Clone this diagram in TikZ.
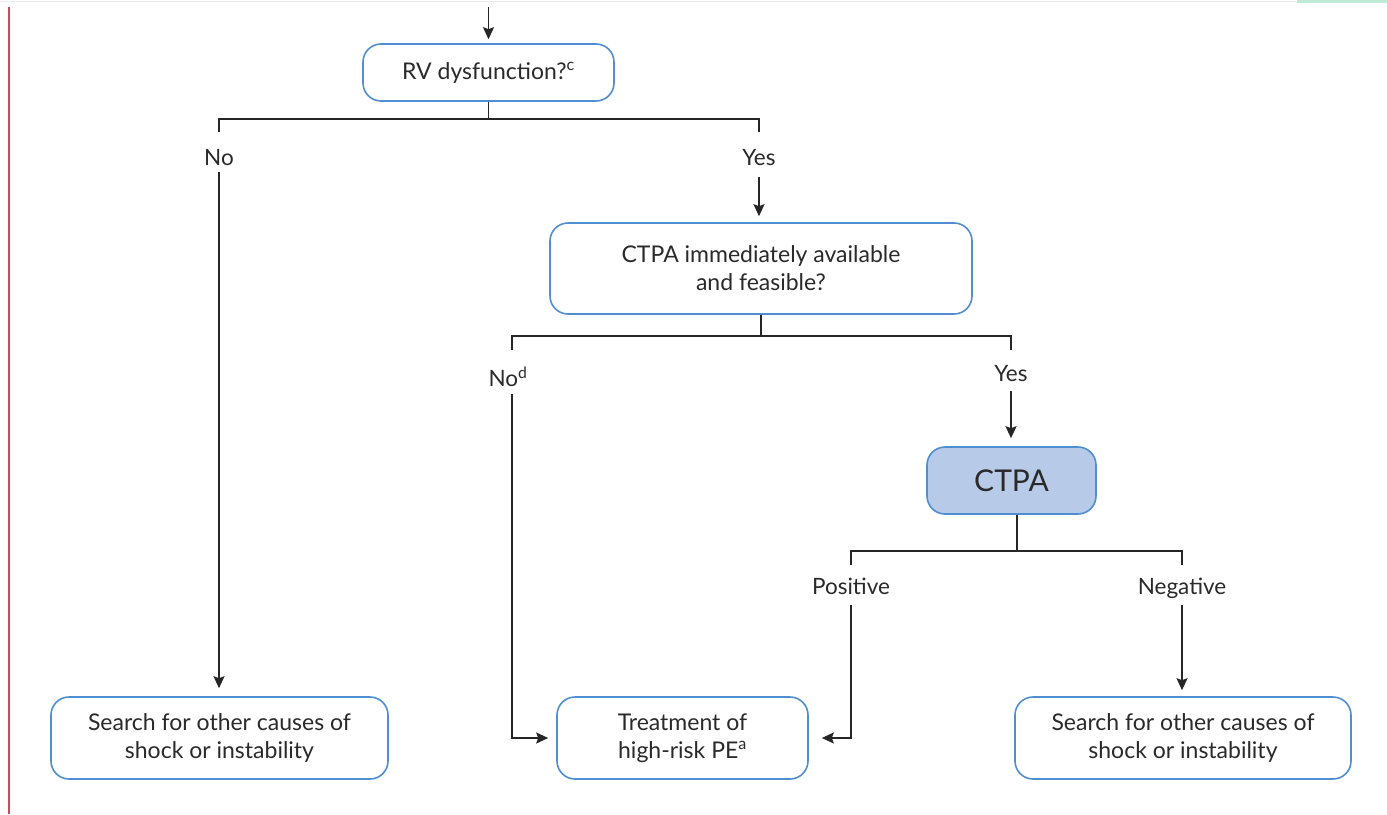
\documentclass[tikz,border=0pt]{standalone}
\usepackage{fontspec}
\setmainfont{Lato}
\usetikzlibrary{arrows.meta,calc}
\definecolor{boxblue}{HTML}{4F8ED0}
\definecolor{ctpafill}{HTML}{B7CBE9}
\definecolor{marginred}{HTML}{CC4A5C}
\definecolor{topgreen}{HTML}{BFEBD6}
\definecolor{ink}{HTML}{2A2A2A}
\tikzset{
  box/.style={draw=boxblue, line width=1.6pt, rounded corners=18pt, fill=white,
    align=center, text=ink, font=\fontsize{23}{28}\selectfont, inner sep=0pt},
  lbl/.style={font=\fontsize{22.5}{26}\selectfont, text=ink, inner sep=0pt,
    text height=16pt, text depth=0pt},
  wire/.style={line width=1.6pt, black!85},
  arr/.style={wire, -{Stealth[length=12pt,width=11pt,inset=2pt]}},
}
\begin{document}
\begin{tikzpicture}[x=1pt,y=-1pt]
\useasboundingbox (0,0) rectangle (1387,814);
% page decorations
\draw[black!8, line width=1pt] (0,1.5) -- (1387,1.5);
\fill[topgreen] (1297,0) rectangle (1387,3);
\draw[marginred, line width=2pt] (9,7) -- (9,814);

% boxes
\node[box, minimum width=251pt, minimum height=57pt] (rv) at (488.5,72.5) {RV dysfunction?\textsuperscript{c}};
\node[box, minimum width=422pt, minimum height=91pt] (ctq) at (761,268.5) {CTPA immediately available\\and feasible?};
\node[box, fill=ctpafill, minimum width=169pt, minimum height=67pt, font=\fontsize{30}{34}\selectfont] (ctpa) at (1011.5,480.5) {CTPA};
\node[box, minimum width=337pt, minimum height=82pt] (sL) at (219.5,738) {Search for other causes of\\shock or instability};
\node[box, minimum width=251pt, minimum height=82pt] (tr) at (682.5,738) {Treatment of\\high-risk PE\textsuperscript{a}};
\node[box, minimum width=336pt, minimum height=82pt] (sR) at (1183,738) {Search for other causes of\\shock or instability};

% branch labels
\node[lbl] (no1) at (219,157) {No};
\node[lbl] (yes1) at (759,157) {Yes};
\node[lbl] (no2) at (508,378) {No\textsuperscript{d}};
\node[lbl] (yes2) at (1011,373) {Yes};
\node[lbl] (pos) at (851,586) {Positive};
\node[lbl] (neg) at (1182,586) {Negative};

% junction points
\coordinate (j1) at (rv.south |- 0,119);
\coordinate (j2) at (ctq.south |- 0,336);
\coordinate (j3) at (1017,551);
\coordinate (entry) at (0,7);

% incoming arrow
\draw[arr, shorten >=4pt] (rv.north |- entry) -- (rv.north);

% RV dysfunction branches
\draw[wire] (rv.south) -- (j1);
\draw[wire] (219,132) |- (j1) -| (759,132);
\draw[arr, shorten >=8pt] (no1.south |- 0,172) -- (sL.north -| no1.south);
\draw[arr, shorten >=6pt] (yes1.south |- 0,177) -- (ctq.north -| yes1.south);

% CTPA availability branches
\draw[wire] (ctq.south) -- (j2);
\draw[wire] (512,350) |- (j2) -| (1011,350);
\draw[arr, shorten >=8pt] (512,394) |- (tr.west);
\draw[arr, shorten >=8pt] (yes2.south |- 0,391) -- (ctpa.north -| yes2.south);

% CTPA result branches
\draw[wire] (ctpa.south -| j3) -- (j3);
\draw[wire] (851,565) |- (j3) -| (1182,565);
\draw[arr, shorten >=13pt] (851,605) |- (tr.east);
\draw[arr, shorten >=6pt] (neg.south |- 0,605) -- (sR.north -| neg.south);
\end{tikzpicture}
\end{document}
